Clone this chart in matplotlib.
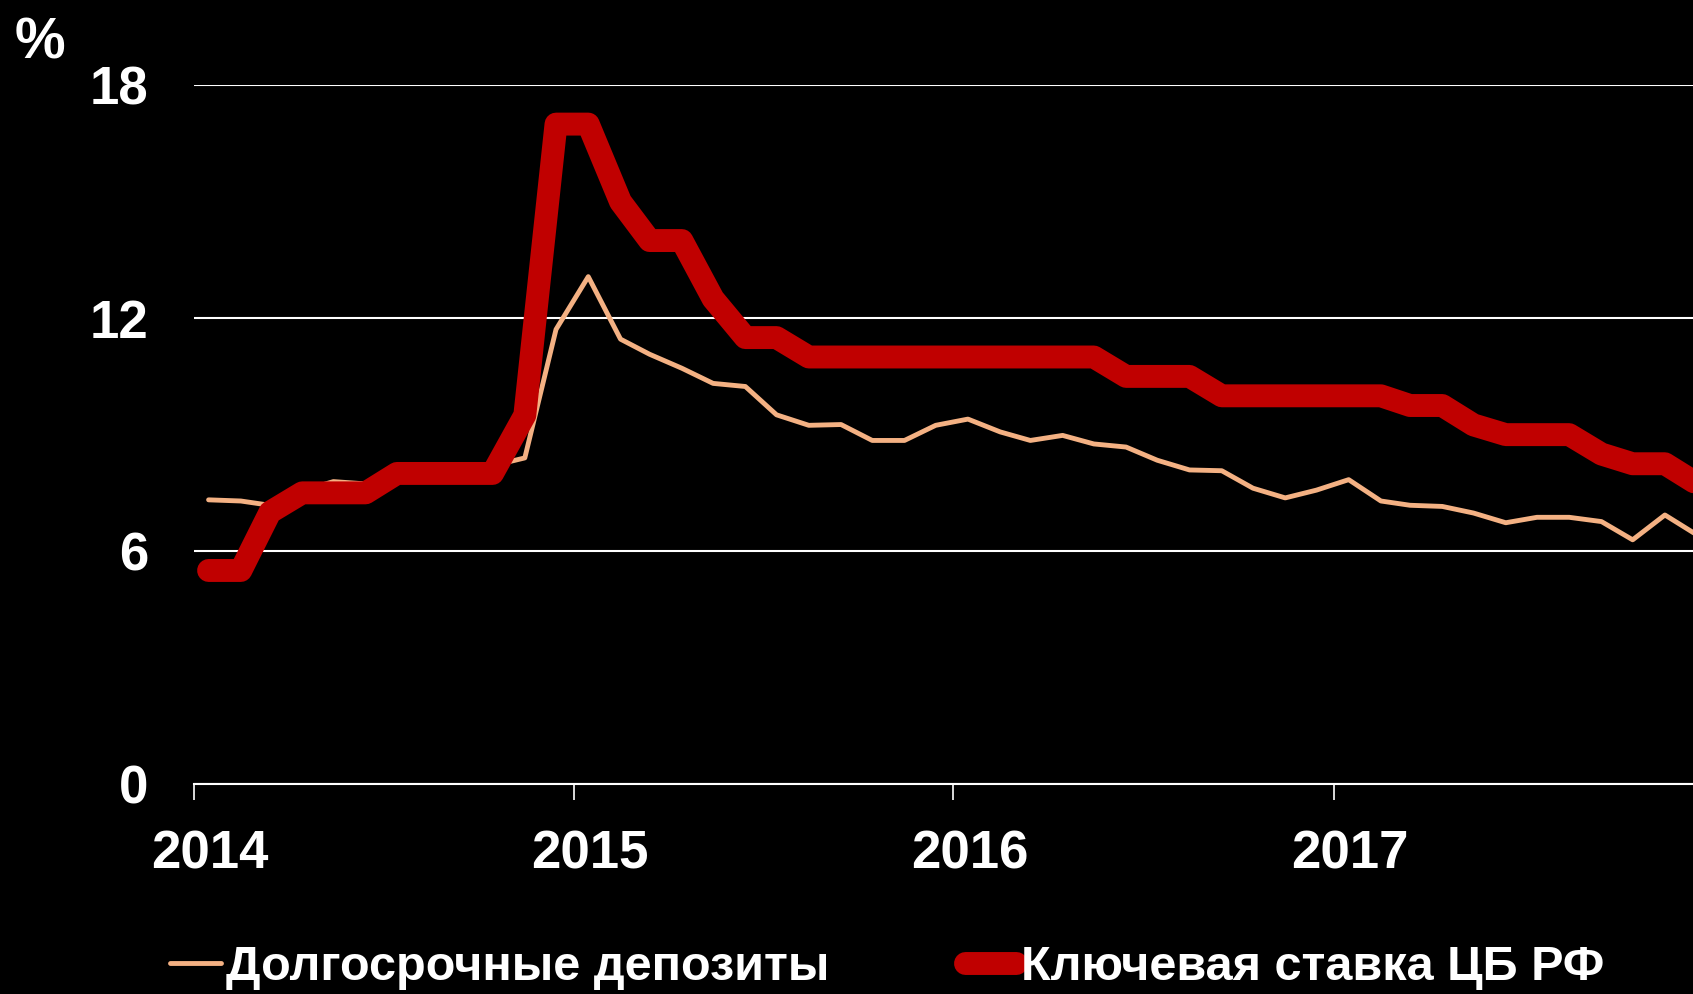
import pandas as pd
import matplotlib
matplotlib.use('Agg')
import matplotlib.pyplot as plt
from matplotlib.transforms import ScaledTranslation

# monthly data, Jan 2014 - Dec 2017
months = pd.date_range('2014-01-01', '2017-12-01', freq='MS') + pd.Timedelta(days=14)

deposits = [7.32, 7.29, 7.18, 7.55, 7.79, 7.73, 7.90, 8.00, 8.10, 8.20, 8.40, 11.71,
            13.07, 11.46, 11.07, 10.71, 10.32, 10.24, 9.51, 9.24, 9.26, 8.85, 8.85, 9.24,
            9.40, 9.07, 8.85, 8.98, 8.76, 8.68, 8.34, 8.09, 8.07, 7.62, 7.37, 7.57,
            7.84, 7.29, 7.18, 7.15, 6.98, 6.73, 6.87, 6.87, 6.76, 6.29, 6.93, 6.43]

key_rate = [5.5, 5.5, 7.0, 7.5, 7.5, 7.5, 8.0, 8.0, 8.0, 8.0, 9.5, 17.0,
            17.0, 15.0, 14.0, 14.0, 12.5, 11.5, 11.5, 11.0, 11.0, 11.0, 11.0, 11.0,
            11.0, 11.0, 11.0, 11.0, 11.0, 10.5, 10.5, 10.5, 10.0, 10.0, 10.0, 10.0,
            10.0, 10.0, 9.75, 9.75, 9.25, 9.0, 9.0, 9.0, 8.5, 8.25, 8.25, 7.75]

labels = ['Долгосрочные депозиты', 'Ключевая ставка ЦБ РФ']
year_ticks = pd.to_datetime(['2014-01-01', '2015-01-01', '2016-01-01', '2017-01-01'])
year_labels = ['2014', '2015', '2016', '2017']
y_ticks = [0, 6, 12, 18]

plt.rcParams['font.family'] = ['Liberation Sans', 'DejaVu Sans']
plt.rcParams['font.weight'] = 'bold'

fig = plt.figure(figsize=(16.93, 9.94), dpi=100, facecolor='black')
ax = fig.add_axes([0.1146, 0.2113, 0.8854, 0.7029], facecolor='black')

ax.plot(months, deposits, color='#F4B183', lw=3.5, solid_capstyle='round', label=labels[0])
ax.plot(months, key_rate, color='#C00000', lw=16.5, solid_capstyle='round', label=labels[1])

ax.set_ylim(0, 18)
ax.set_xlim(pd.Timestamp('2014-01-01'), pd.Timestamp('2017-12-12'))

ax.set_yticks(y_ticks)
ax.set_yticklabels([str(v) for v in y_ticks])
ax.set_xticks(year_ticks)
ax.set_xticklabels(year_labels)

ax.grid(axis='y', color='white', lw=1.5)
ax.set_axisbelow(True)
for s in ['top', 'right', 'left']:
    ax.spines[s].set_visible(False)
ax.spines['bottom'].set_color('white')
ax.spines['bottom'].set_linewidth(1.5)

ax.tick_params(axis='y', length=0, pad=33, labelsize=38, labelcolor='white')
ax.tick_params(axis='x', length=11.5, width=1.2, color='white', pad=21,
               labelsize=38, labelcolor='white')

# year labels sit a bit to the right of the ticks
offset = ScaledTranslation(0.16, 0, fig.dpi_scale_trans)
for lbl in ax.get_xticklabels():
    lbl.set_transform(lbl.get_transform() + offset)

fig.text(0.0233, 0.956, '%', color='white', fontsize=41, fontweight='bold',
         ha='center', va='center')

fig.legend(loc='lower left', bbox_to_anchor=(0.0745, -0.04), ncol=2, frameon=False,
           fontsize=35, labelcolor='white', handlelength=1.05, handletextpad=0.1,
           columnspacing=2.8)

fig.savefig('out.png', dpi=100, facecolor='black')
